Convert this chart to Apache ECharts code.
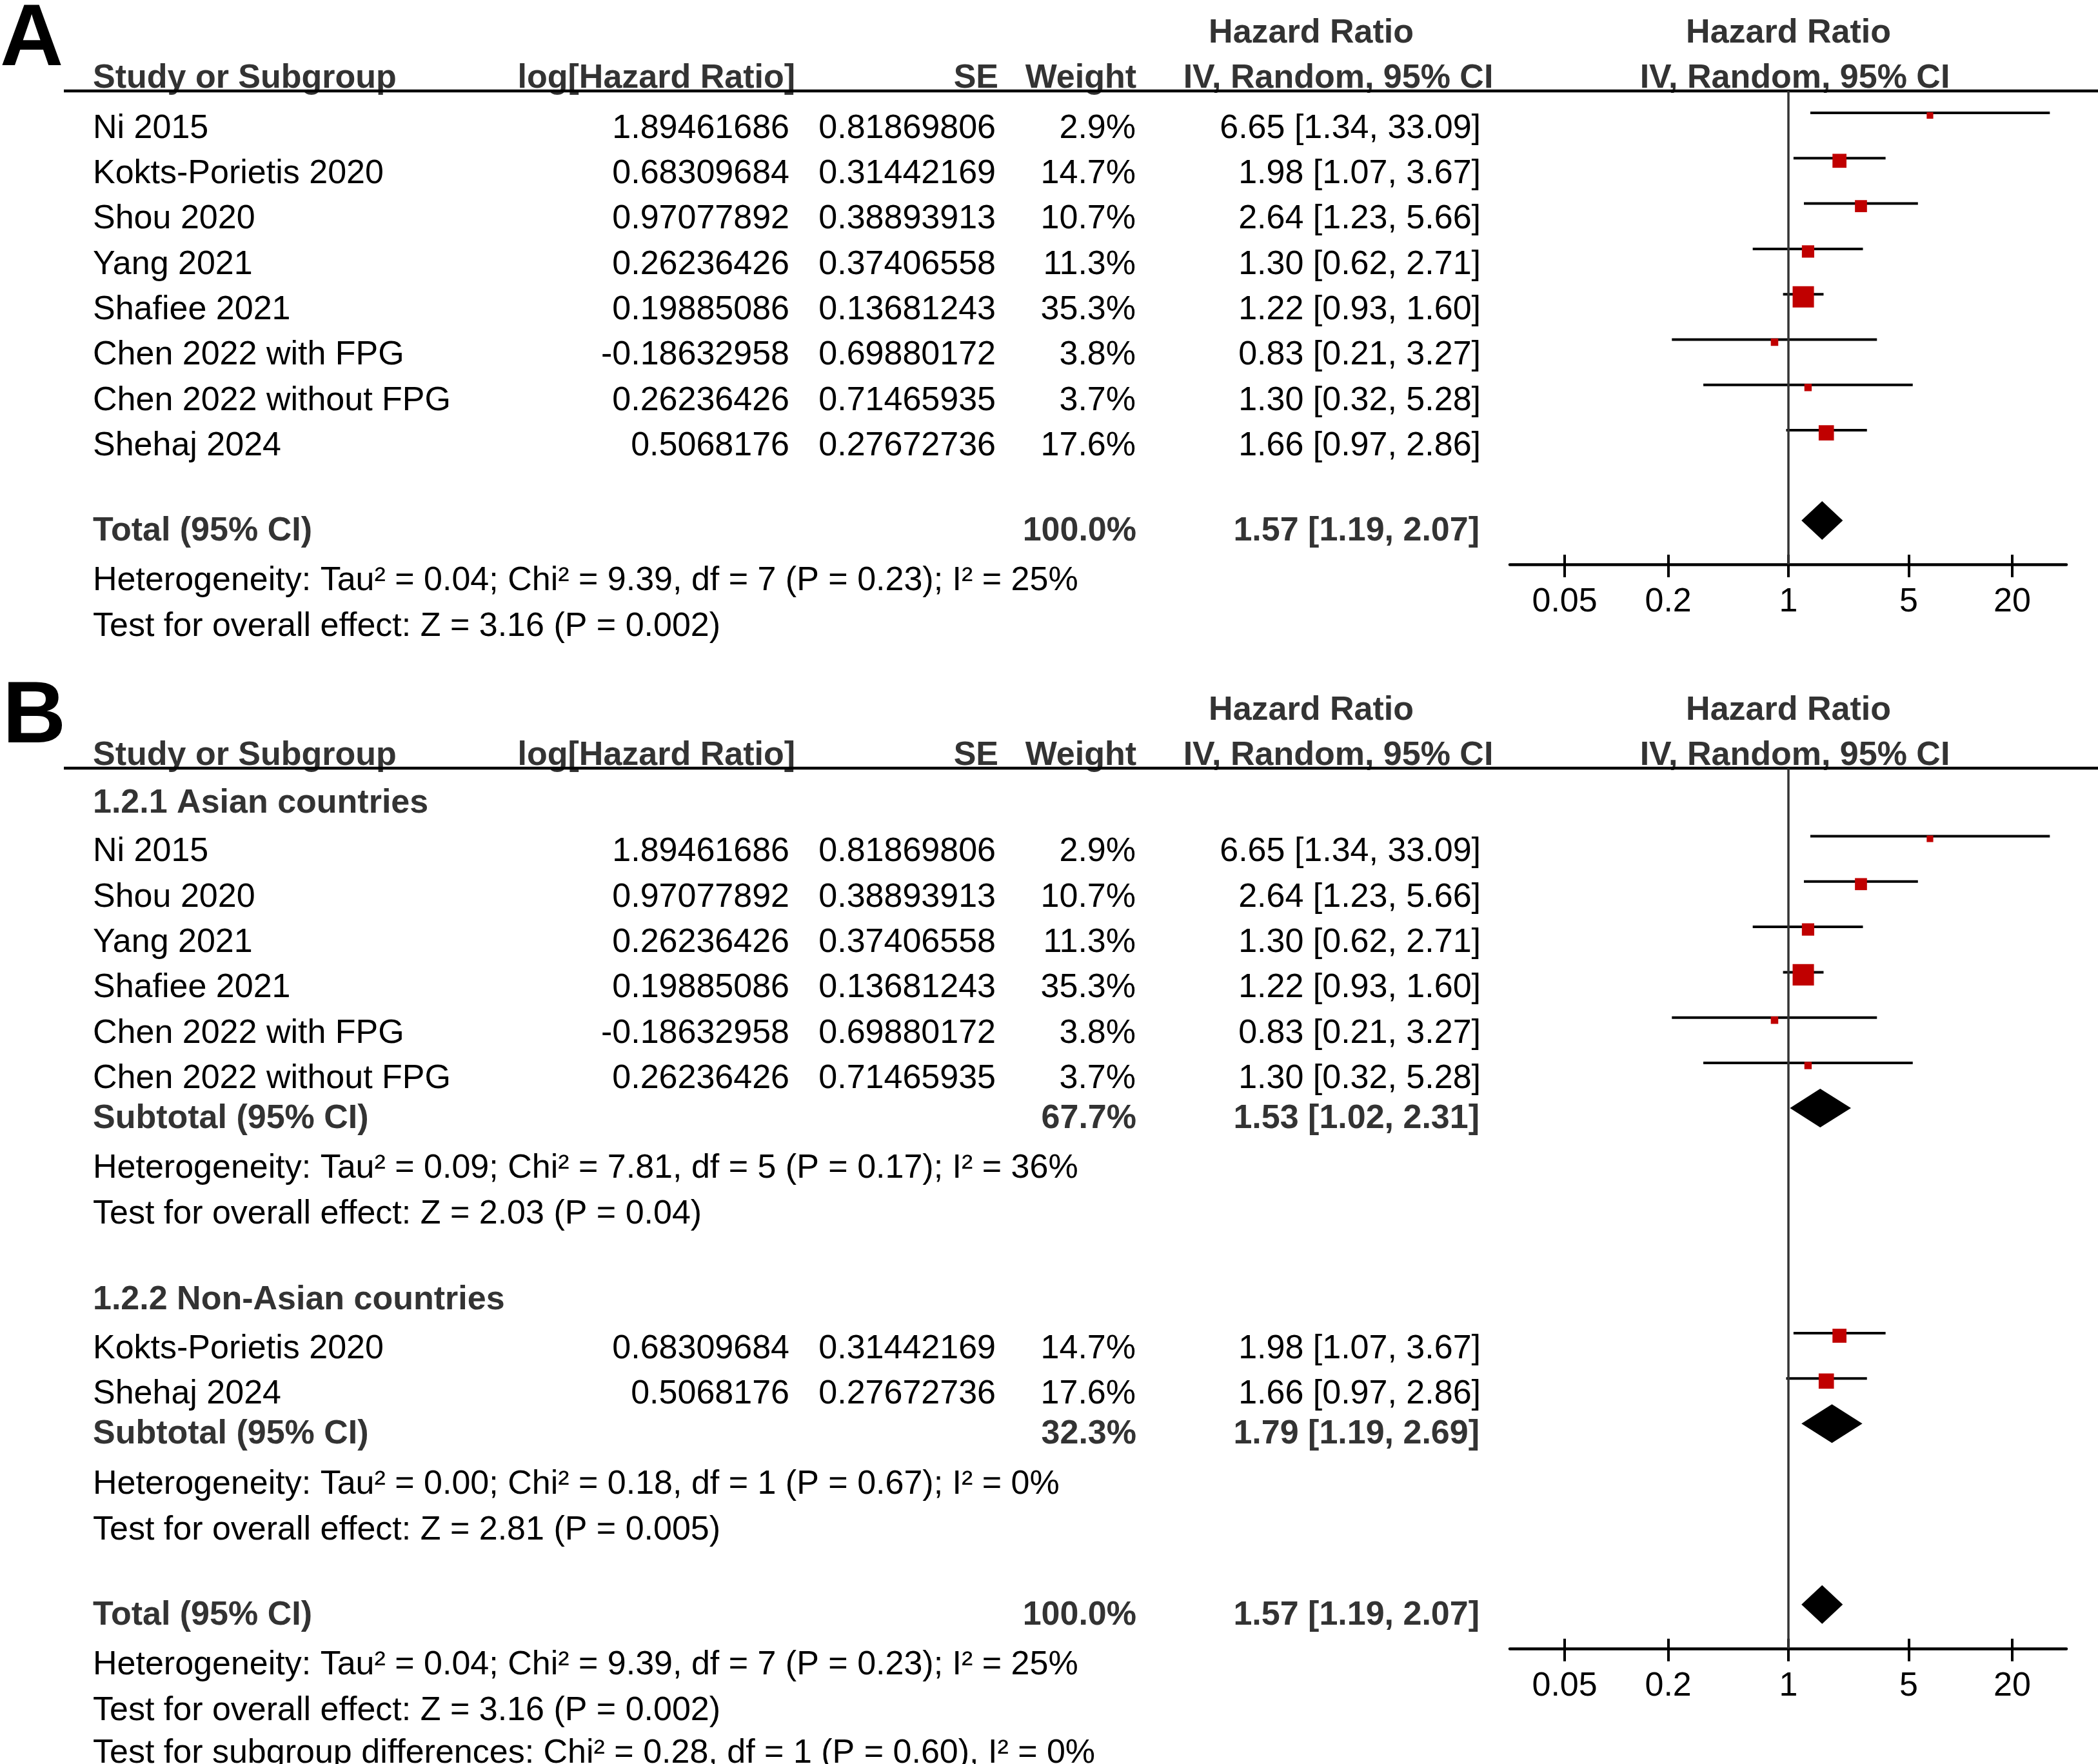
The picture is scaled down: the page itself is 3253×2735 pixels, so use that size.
<!DOCTYPE html>
<html><head><meta charset="utf-8">
<script src="https://cdn.jsdelivr.net/npm/echarts@6.0.0/dist/echarts.min.js"></script>
<style>html,body{margin:0;padding:0;background:#fff}#c{width:3253px;height:2735px}</style>
</head><body><div id="c"></div><script>
// ---------------- DATA ----------------
const studies = ['Ni 2015','Kokts-Porietis 2020','Shou 2020','Yang 2021','Shafiee 2021','Chen 2022 with FPG','Chen 2022 without FPG','Shehaj 2024'];
const logHazardRatio = [1.89461686,0.68309684,0.97077892,0.26236426,0.19885086,-0.18632958,0.26236426,0.5068176];
const standardError = [0.81869806,0.31442169,0.38893913,0.37406558,0.13681243,0.69880172,0.71465935,0.27672736];
const weightPct = [2.9,14.7,10.7,11.3,35.3,3.8,3.7,17.6];
const hazardRatio = [6.65,1.98,2.64,1.30,1.22,0.83,1.30,1.66];
const ciLower = [1.34,1.07,1.23,0.62,0.93,0.21,0.32,0.97];
const ciUpper = [33.09,3.67,5.66,2.71,1.60,3.27,5.28,2.86];
const allStudies = [0,1,2,3,4,5,6,7];
const asianGroup = [0,2,3,4,5,6];
const nonAsianGroup = [1,7];
const groupTitles = ['1.2.1 Asian countries','1.2.2 Non-Asian countries'];
// pooled: [total, asian subtotal, non-asian subtotal]
const pooledWeight = [100.0,67.7,32.3];
const pooledHR = [1.57,1.53,1.79];
const pooledLower = [1.19,1.02,1.19];
const pooledUpper = [2.07,2.31,2.69];
const heterogeneity = [
  'Heterogeneity: Tau\u00b2 = 0.04; Chi\u00b2 = 9.39, df = 7 (P = 0.23); I\u00b2 = 25%',
  'Heterogeneity: Tau\u00b2 = 0.09; Chi\u00b2 = 7.81, df = 5 (P = 0.17); I\u00b2 = 36%',
  'Heterogeneity: Tau\u00b2 = 0.00; Chi\u00b2 = 0.18, df = 1 (P = 0.67); I\u00b2 = 0%'];
const overallEffect = [
  'Test for overall effect: Z = 3.16 (P = 0.002)',
  'Test for overall effect: Z = 2.03 (P = 0.04)',
  'Test for overall effect: Z = 2.81 (P = 0.005)'];
const subgroupDifferences = 'Test for subgroup differences: Chi\u00b2 = 0.28, df = 1 (P = 0.60), I\u00b2 = 0%';
const pooledLabels = ['Total (95% CI)','Subtotal (95% CI)'];
const headerTop = ['Hazard Ratio','Hazard Ratio'];
const headerCols = ['Study or Subgroup','log[Hazard Ratio]','SE','Weight','IV, Random, 95% CI','IV, Random, 95% CI'];
const tickValues = [0.05,0.2,1,5,20];
const panelLetters = ['A','B'];

// ---------------- LAYOUT ----------------
const LY = {
  W:3253, H:2735,
  font:'"Liberation Sans", Arial, Helvetica, sans-serif', fs:52, letterFs:136,
  boldColor:'#333', textColor:'#000',
  textDy:4.5, letterDy:9,
  colName:144, colLog:1224, colSE:1544, colWeight:1761, colHR:2296,
  hdrLog:1233, hdrSE:1548, hdrWeight:1762, hdrIV:[2075,2783], hdrHR:[2033,2773],
  ruleX:99, ruleWidth:4.5,
  lineY:[141,1191],
  step:70.3,
  plotLeft:2341, plotRight:3204, plotMin:-1.62, plotMax:1.616,
  ciOffset:20, diaOffset:12, diaHalfH:30, sqOffset:4
};

const items = [];
const rules = [];
const ci = [[],[]];
const dia = [[],[]];
const axisY = [];

function txt(x, y, text, align, bold, size, color, dy) {
  items.push({x, y:y+(dy==null?LY.textDy:dy), text, align, bold:!!bold, size:size||LY.fs, color:color||(bold?LY.boldColor:LY.textColor)});
}
function hrText(h, lo, hi) { return h.toFixed(2)+' ['+lo.toFixed(2)+', '+hi.toFixed(2)+']'; }
function header(p) {
  const ly = LY.lineY[p];
  txt(p===0?0:4, ly-87, panelLetters[p], 'left', true, LY.letterFs, '#000', LY.letterDy);
  txt(LY.hdrHR[0], ly-93.5, headerTop[0], 'center', true);
  txt(LY.hdrHR[1], ly-93.5, headerTop[1], 'center', true);
  const y2 = ly-23.5;
  txt(LY.colName, y2, headerCols[0], 'left', true);
  txt(LY.hdrLog, y2, headerCols[1], 'right', true);
  txt(LY.hdrSE, y2, headerCols[2], 'right', true);
  txt(LY.hdrWeight, y2, headerCols[3], 'right', true);
  txt(LY.hdrIV[0], y2, headerCols[4], 'center', true);
  txt(LY.hdrIV[1], y2, headerCols[5], 'center', true);
  rules.push([LY.ruleX, ly, LY.W]);
}
function studyRow(i, y, p) {
  txt(LY.colName, y, studies[i], 'left');
  txt(LY.colLog, y, String(logHazardRatio[i]), 'right');
  txt(LY.colSE, y, String(standardError[i]), 'right');
  txt(LY.colWeight, y, weightPct[i].toFixed(1)+'%', 'right');
  txt(LY.colHR, y, hrText(hazardRatio[i], ciLower[i], ciUpper[i]), 'right');
  ci[p].push([Math.log10(hazardRatio[i]), y-LY.ciOffset, Math.log10(ciLower[i]), Math.log10(ciUpper[i]), weightPct[i]]);
}
function pooledRow(k, label, y, p) {
  txt(LY.colName, y, label, 'left', true);
  txt(LY.colWeight+1, y, pooledWeight[k].toFixed(1)+'%', 'right', true);
  txt(LY.colHR-2, y, hrText(pooledHR[k], pooledLower[k], pooledUpper[k]), 'right', true);
  dia[p].push([Math.log10(pooledHR[k]), y-LY.diaOffset, Math.log10(pooledLower[k]), Math.log10(pooledUpper[k])]);
}

// Panel A
header(0);
let y = LY.lineY[0] + 54;
allStudies.forEach((i,k) => { if (k>0) y += LY.step; studyRow(i, y, 0); });
y += 132; pooledRow(0, pooledLabels[0], y, 0); axisY[0] = y + 56;
y += 77.5; txt(LY.colName, y, heterogeneity[0], 'left');
y += 71; txt(LY.colName, y, overallEffect[0], 'left');

// Panel B
header(1);
y = LY.lineY[1] + 50;
[asianGroup, nonAsianGroup].forEach((g, gi) => {
  if (gi>0) y += 133;
  txt(LY.colName, y, groupTitles[gi], 'left', true);
  y += 75.5;
  g.forEach((i,k) => { if (k>0) y += LY.step; studyRow(i, y, 1); });
  y += 62; pooledRow(gi+1, pooledLabels[1], y, 1);
  y += 77.5; txt(LY.colName, y, heterogeneity[gi+1], 'left');
  y += 71; txt(LY.colName, y, overallEffect[gi+1], 'left');
});
y += 132; pooledRow(0, pooledLabels[0], y, 1); axisY[1] = y + 56;
y += 77.5; txt(LY.colName, y, heterogeneity[0], 'left');
y += 71; txt(LY.colName, y, overallEffect[0], 'left');
y += 66; txt(LY.colName, y, subgroupDifferences, 'left');

// ---------------- OPTION ----------------
const tickLogs = tickValues.map(v => Math.log10(v));
function tickFmt(v) {
  for (const t of tickValues) if (Math.abs(Math.log10(t)-v) < 1e-6) return String(t);
  return '';
}
const grids = [{left:0, top:0, width:LY.W, height:LY.H}];
const xAxes = [{gridIndex:0, type:'value', min:0, max:LY.W, show:false}];
const yAxes = [{gridIndex:0, type:'value', min:0, max:LY.H, inverse:true, show:false}];
const forestAxisIdx = [];
[0,1].forEach(p => {
  const g = {left:LY.plotLeft, top:LY.lineY[p], width:LY.plotRight-LY.plotLeft, height:axisY[p]-LY.lineY[p]};
  [false, true].forEach(inside => {
    const gi = grids.length;
    grids.push(Object.assign({}, g));
    xAxes.push({
      gridIndex:gi, type:'value', min:LY.plotMin, max:LY.plotMax, position:'bottom',
      axisLine:{show:!inside, onZero:false, lineStyle:{color:'#000', width:4.5}},
      axisTick:{show:true, inside:inside, length:inside?15:20, customValues:tickLogs, lineStyle:{color:'#000', width:4}},
      axisLabel:{show:!inside, customValues:tickLogs, formatter:tickFmt, margin:59, verticalAlign:'middle',
        fontFamily:LY.font, fontSize:LY.fs, color:'#000'},
      splitLine:{show:false}
    });
    yAxes.push({gridIndex:gi, type:'value', min:LY.lineY[p], max:axisY[p], inverse:true, show:false});
    if (!inside) forestAxisIdx[p] = gi;
  });
});
grids.forEach(g => { g.containLabel = false; g.outerBoundsMode = 'none'; });

const series = [
  {
    type:'custom', xAxisIndex:0, yAxisIndex:0, silent:true, clip:false,
    data: items.map(it => [it.x, it.y]),
    renderItem: (params, api) => {
      const it = items[params.dataIndex];
      const c = api.coord([api.value(0), api.value(1)]);
      return {type:'text', x:c[0], y:c[1], style:{
        text:it.text, fill:it.color,
        font:(it.bold?'bold ':'')+it.size+'px '+LY.font,
        align:it.align, verticalAlign:'middle', textAlign:it.align, textVerticalAlign:'middle'}};
    }
  },
  {
    type:'custom', xAxisIndex:0, yAxisIndex:0, silent:true, clip:false,
    data: rules,
    renderItem: (params, api) => {
      const a = api.coord([api.value(0), api.value(1)]);
      const b = api.coord([api.value(2), api.value(1)]);
      return {type:'line', shape:{x1:a[0], y1:a[1], x2:b[0], y2:b[1]}, style:{stroke:'#000', lineWidth:LY.ruleWidth}};
    }
  }
];
[0,1].forEach(p => {
  const xi = forestAxisIdx[p];
  series.push({
    type:'custom', xAxisIndex:xi, yAxisIndex:xi, silent:true, clip:false,
    data: ci[p],
    markLine:{silent:true, symbol:['none','none'], label:{show:false},
      lineStyle:{color:'#333', width:3.5, type:'solid'}, emphasis:{disabled:true}, data:[{xAxis:0}]},
    renderItem: (params, api) => {
      const yy = api.value(1);
      const c = api.coord([api.value(0), yy]);
      const lo = api.coord([api.value(2), yy]);
      const hi = api.coord([api.value(3), yy]);
      const s = 1 + 5.4*Math.sqrt(api.value(4));
      return {type:'group', children:[
        {type:'line', shape:{x1:lo[0], y1:lo[1], x2:hi[0], y2:hi[1]}, style:{stroke:'#000', lineWidth:4}},
        {type:'rect', shape:{x:c[0]-s/2, y:c[1]-s/2+LY.sqOffset, width:s, height:s}, style:{fill:'#c00000'}}
      ]};
    }
  });
  series.push({
    type:'custom', xAxisIndex:xi, yAxisIndex:xi, silent:true, clip:false,
    data: dia[p],
    renderItem: (params, api) => {
      const yy = api.value(1);
      const c = api.coord([api.value(0), yy]);
      const lo = api.coord([api.value(2), yy]);
      const hi = api.coord([api.value(3), yy]);
      const h = LY.diaHalfH;
      return {type:'polygon', shape:{points:[[lo[0],c[1]],[c[0],c[1]-h],[hi[0],c[1]],[c[0],c[1]+h]]}, style:{fill:'#000'}};
    }
  });
});

const chart = echarts.init(document.getElementById('c'), null, {renderer:'canvas', width:LY.W, height:LY.H});
chart.setOption({
  animation:false, backgroundColor:'#fff',
  grid:grids, xAxis:xAxes, yAxis:yAxes, series:series
});
</script></body></html>
